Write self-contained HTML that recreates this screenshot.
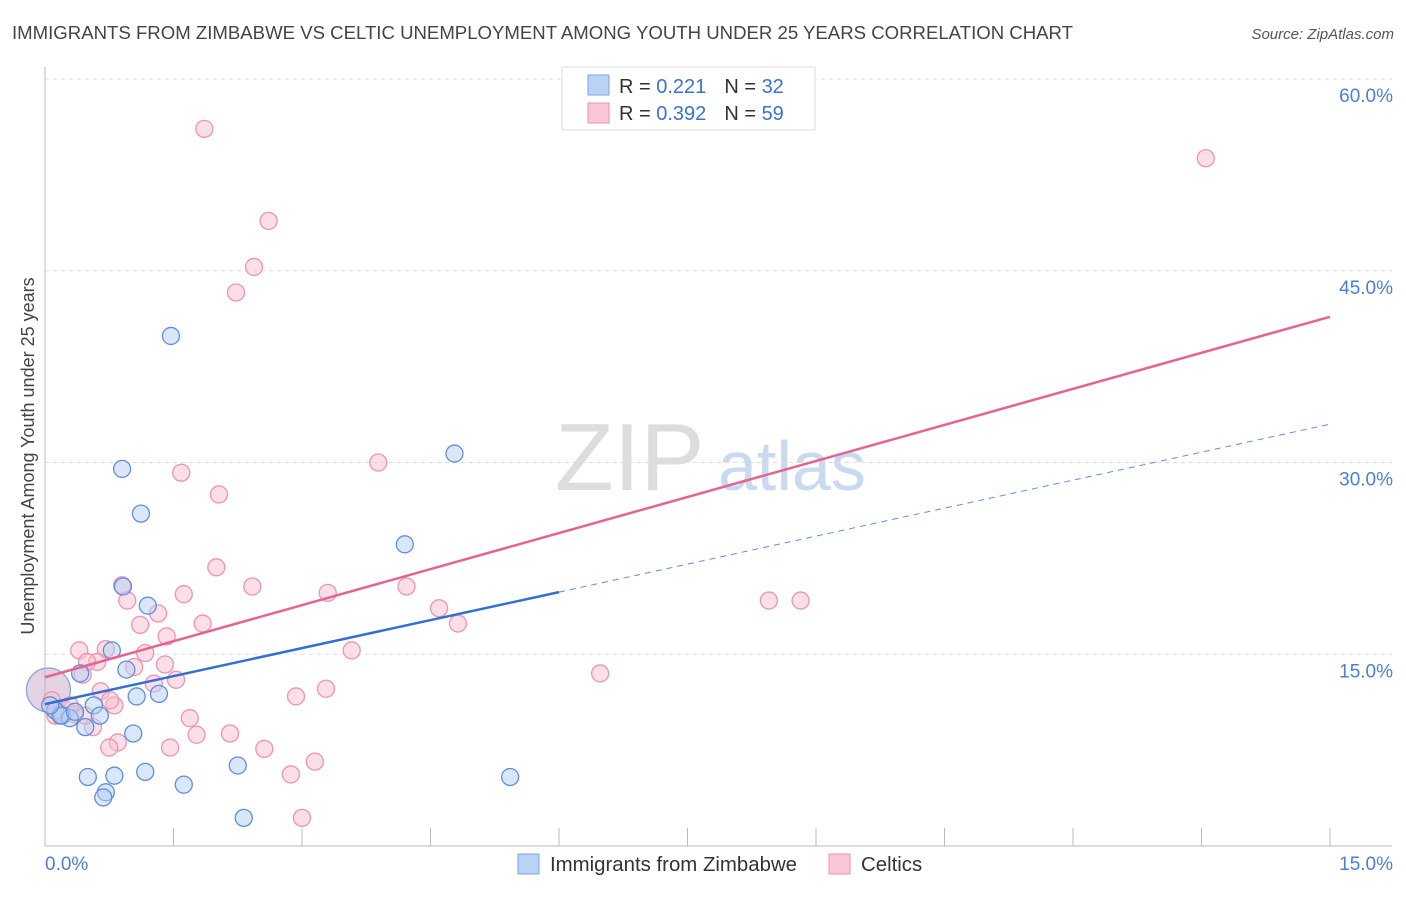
<!DOCTYPE html>
<html><head><meta charset="utf-8"><style>
body{margin:0;background:#fff;font-family:"Liberation Sans",sans-serif;}
svg text{font-family:"Liberation Sans",sans-serif;}
</style></head><body>
<svg id="chart" width="1406" height="892" viewBox="0 0 1406 892" xmlns="http://www.w3.org/2000/svg">
<text x="12" y="39" font-size="18" fill="#444" textLength="1061" lengthAdjust="spacingAndGlyphs">IMMIGRANTS FROM ZIMBABWE VS CELTIC UNEMPLOYMENT AMONG YOUTH UNDER 25 YEARS CORRELATION CHART</text>
<text x="1394" y="39" font-size="15" fill="#555" font-style="italic" text-anchor="end">Source: ZipAtlas.com</text>
<g>
<text x="555" y="490" font-size="96" fill="#ddd" font-family="Liberation Serif, serif">ZIP</text>
<text x="718" y="490" font-size="70" fill="#c8d9f0">atlas</text>
</g>
<g id="grid"></g>
<g id="axes"></g>
<g id="lines"></g>
<g id="points"></g>
<text transform="translate(34,456) rotate(-90)" font-size="18" fill="#444" text-anchor="middle">Unemployment Among Youth under 25 years</text>
<g>
<rect x="562" y="67" width="253" height="63" fill="#fff" stroke="#ddd"/>
<rect x="588" y="75" width="21" height="20" fill="#b9d3f5" stroke="#7aa6e6"/>
<rect x="588" y="103" width="21" height="20" fill="#fac7d6" stroke="#f08fad"/>
<text x="619" y="93" font-size="20" fill="#333">R = <tspan fill="#3a72d0"> 0.221</tspan><tspan dx="18">N = </tspan><tspan fill="#3a72d0">32</tspan></text>
<text x="619" y="120" font-size="20" fill="#333">R = <tspan fill="#3a72d0">0.392</tspan><tspan dx="18">N = </tspan><tspan fill="#3a72d0">59</tspan></text>
</g>
<g>
<rect x="518" y="854" width="21" height="20" fill="#b9d3f5" stroke="#7aa6e6"/>
<text x="550" y="871" font-size="20.4" fill="#333">Immigrants from Zimbabwe</text>
<rect x="829" y="854" width="21" height="20" fill="#fac7d6" stroke="#f08fad"/>
<text x="861" y="871" font-size="20.4" fill="#333">Celtics</text>
</g>
</svg>
<script>
const blueX=[1.47,0.90,4.78,1.12,4.20,0.91,1.20,0.78,0.95,0.41,1.07,1.33,0.57,0.12,0.20,0.29,0.47,1.03,2.25,1.17,0.50,0.81,1.62,0.71,0.68,2.32,5.43,0.64,0.18,0.06,0.35];
const blueY=[39.9,29.5,30.7,26.0,23.6,20.3,18.8,15.3,13.8,13.5,11.7,11.9,11.0,10.6,10.2,10.0,9.3,8.8,6.3,5.8,5.4,5.5,4.8,4.2,3.8,2.2,5.4,10.2,10.2,11.0,10.5];
const pinkX=[1.86,13.55,2.61,2.44,2.23,1.59,3.89,2.03,2.00,0.90,2.42,4.22,0.96,1.62,3.30,1.32,4.60,1.11,1.84,4.82,8.45,8.82,1.42,0.40,1.17,3.58,0.71,0.61,0.49,1.04,1.40,0.44,1.53,1.27,6.48,0.65,3.28,2.93,0.81,0.08,1.69,0.25,0.35,0.56,2.16,1.77,1.46,0.85,0.75,2.56,3.15,2.87,3.00,0.18,0.12,0.29,0.47,0.76];
const pinkY=[56.1,53.8,48.9,45.3,43.3,29.2,30.0,27.5,21.8,20.4,20.3,20.3,19.2,19.7,19.8,18.2,18.6,17.3,17.4,17.4,19.2,19.2,16.4,15.3,15.1,15.3,15.4,14.4,14.4,14.0,14.2,13.4,13.0,12.7,13.5,12.1,12.3,11.7,11.0,11.4,10.0,10.6,10.3,9.3,8.8,8.7,7.7,8.1,7.7,7.6,6.6,5.6,2.2,10.4,10.2,11.0,10.2,11.4];
const bigX=[0.04];
const bigY=[12.2];
const yTicks=[15,30,45,60];
const yTickLabels=["15.0%","30.0%","45.0%","60.0%"];
const xTicks=[0,1.5,3,4.5,6,7.5,9,10.5,12,13.5,15];
const blueTrend=[11.1,33.0];
const blueSolidEnd=6.0;
const pinkTrend=[13.2,41.4];
const NS="http://www.w3.org/2000/svg";
const sx=v=>45+v/15*1285;
const sy=v=>846-v/60*767;
function mk(parent,tag,attrs){const e=document.createElementNS(NS,tag);for(const k in attrs)e.setAttribute(k,attrs[k]);document.getElementById(parent).appendChild(e);return e;}
yTicks.forEach((t,i)=>{
 const g=mk('grid','line',{x1:45,x2:1392,y1:sy(t),y2:sy(t),stroke:'#ddd','stroke-dasharray':'4,4'});
 
 
 const l=mk('grid','text',{x:1393,y:sy(t)+23,'font-size':19,fill:'#4a7fd4','text-anchor':'end'});
 l.textContent=yTickLabels[i];
 
 
});
const ya=mk('axes','line',{x1:45,x2:45,y1:67,y2:846,stroke:'#bbb'});


const xa=mk('axes','line',{x1:45,x2:1392,y1:846,y2:846,stroke:'#bbb'});


xTicks.forEach(t=>{
 const tk=mk('axes','line',{x1:sx(t),x2:sx(t),y1:828,y2:846,stroke:'#bbb'});
 
 
});
const xl0=mk('axes','text',{x:45,y:870,'font-size':19,fill:'#4a7fd4'});xl0.textContent='0.0%';


const xl1=mk('axes','text',{x:1393,y:870,'font-size':19,fill:'#4a7fd4','text-anchor':'end'});xl1.textContent='15.0%';


function dot(x,y,r,fill,stroke,name){
 const c=mk('points','circle',{cx:sx(x),cy:sy(y),r:r,fill:fill,'fill-opacity':0.5,stroke:stroke,'stroke-width':1.3});
 
 
}
bigX.forEach((x,i)=>{dot(x,bigY[i],22,'#c9a9c8','#8fa6dc','cluster-point');});
pinkX.forEach((x,i)=>dot(x,pinkY[i],8.5,'#f8bfd0','#ef93b0','celtics-point'));
blueX.forEach((x,i)=>dot(x,blueY[i],8.5,'#b3cff3','#5f8fdc','zimbabwe-point'));
const by=x=>blueTrend[0]+(blueTrend[1]-blueTrend[0])*x/15;
const py=x=>pinkTrend[0]+(pinkTrend[1]-pinkTrend[0])*x/15;
const b1=mk('lines','line',{x1:sx(0),y1:sy(by(0)),x2:sx(blueSolidEnd),y2:sy(by(blueSolidEnd)),stroke:'#2f6fd6','stroke-width':2.5});


const b2=mk('lines','line',{x1:sx(blueSolidEnd),y1:sy(by(blueSolidEnd)),x2:sx(15),y2:sy(by(15)),stroke:'#5f8fdc','stroke-width':1,'stroke-dasharray':'6,5'});


const p1=mk('lines','line',{x1:sx(0),y1:sy(py(0)),x2:sx(15),y2:sy(py(15)),stroke:'#e8628f','stroke-width':2.5});


document.getElementById('points').parentNode.appendChild(document.getElementById('lines'));
</script>
</body></html>
